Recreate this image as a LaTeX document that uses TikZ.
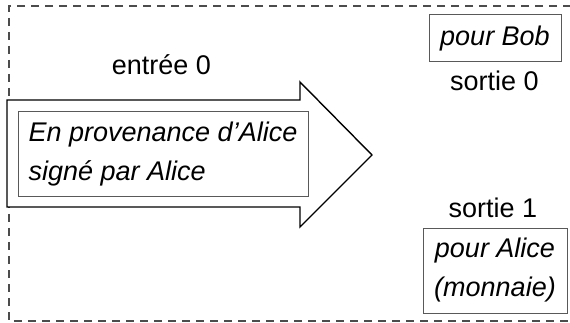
\documentclass[tikz,border=0pt]{standalone}
\usepackage{fontspec}
\setmainfont{Liberation Sans}
\tikzset{
  etiq/.style={font=\fontsize{27}{39}\selectfont, anchor=base, inner sep=0pt},
  boite/.style={draw=black!65, line width=1pt, font=\fontsize{27}{39}\selectfont\itshape, align=center, inner xsep=8pt},
}
\begin{document}
\begin{tikzpicture}[x=1pt,y=-1pt]
\useasboundingbox (0,0) rectangle (570,323);
% Cadre de la transaction
\draw[black!70, line width=1.2pt, dash pattern=on 8pt off 6pt] (585,6) -- (9,6) -- (9,321) -- (585,321);
% Flèche de l'entrée
\draw[line width=1.4pt, fill=white] (7,100) -- (300,100) -- (300,82) -- (372,155) -- (300,227) -- (300,207) -- (7,207) -- cycle;
\node[boite, align=left, minimum width=290pt, minimum height=85pt] (signe) at (163,154.5) {En provenance d’Alice\\signé par Alice};
\node[etiq] (entree0) at (161.5,75) {entrée 0};
% Sorties
\node[boite, minimum width=132pt, minimum height=47pt] (bob) at (495,38.5) {pour Bob};
\node[etiq] (sortie0) at (494.5,91) {sortie 0};
\node[etiq] (sortie1) at (493,218) {sortie 1};
\node[boite, minimum width=144pt, minimum height=85pt] (alice) at (495,270.5) {pour Alice\\(monnaie)};
\end{tikzpicture}
\end{document}
